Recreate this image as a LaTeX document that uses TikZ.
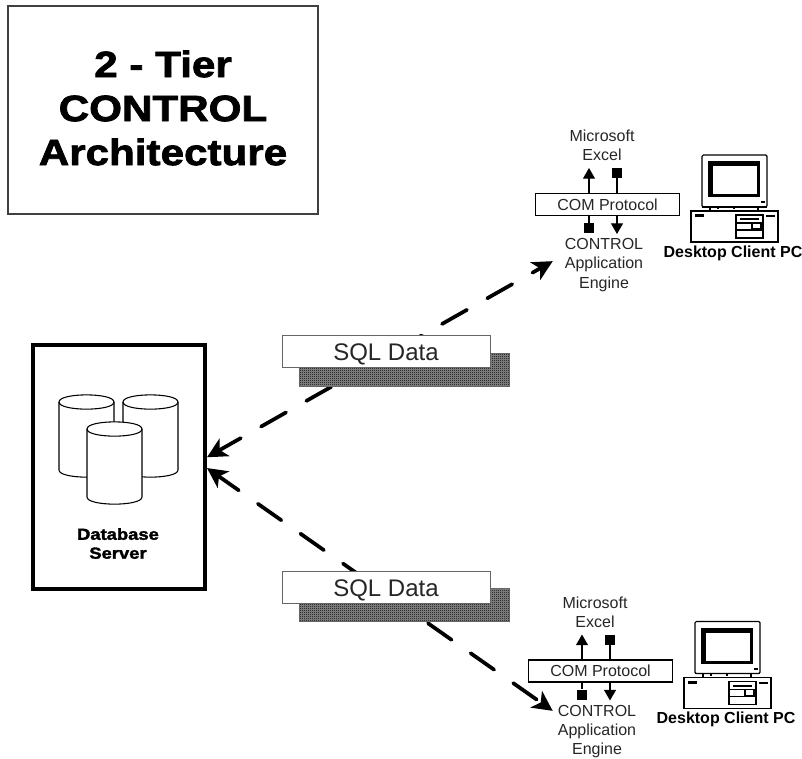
\documentclass[tikz,border=0pt]{standalone}
\usepackage{fontspec}
\setmainfont{Liberation Sans}
\newfontfamily\heavyfont[FakeBold=2,FakeStretch=1.15]{Liberation Sans Bold}
\usetikzlibrary{arrows.meta,patterns}
\pgfdeclarepatternformonly{finecheck}{\pgfqpoint{0pt}{0pt}}{\pgfqpoint{1.5pt}{1.5pt}}{\pgfqpoint{1.5pt}{1.5pt}}{
  \pgfpathrectangle{\pgfqpoint{0pt}{0pt}}{\pgfqpoint{0.75pt}{0.75pt}}
  \pgfpathrectangle{\pgfqpoint{0.75pt}{0.75pt}}{\pgfqpoint{0.75pt}{0.75pt}}
  \pgfusepath{fill}
}
\begin{document}
\begin{tikzpicture}[
    x=0.75pt, y=-0.75pt,
    titlebox/.style={rectangle, draw=black!75, line width=0.8pt, minimum width=232.5pt, minimum height=156pt},
    titletext/.style={align=center, font=\fontsize{27.5}{33}\heavyfont},
    serverbox/.style={rectangle, draw, line width=3pt, minimum width=129pt, minimum height=183pt},
    boldlabel/.style={align=center, font=\fontsize{12}{14.2}\selectfont\bfseries},
    label/.style={align=center, font=\fontsize{12}{14.5}\selectfont, text=black!85, inner sep=0pt},
    protocol/.style={rectangle, draw, line width=0.8pt, fill=white, minimum width=108pt, minimum height=16.5pt,
        inner sep=0pt, font=\fontsize{12}{14}\selectfont, text=black!85},
    engine/.style={label, minimum width=66pt, minimum height=44pt},
    datacard/.style={rectangle, draw=black!60, line width=0.6pt, fill=white, minimum width=156pt, minimum height=24pt,
        inner sep=0pt, text height=14pt, text depth=0pt, font=\fontsize{18}{20}\selectfont, text=black!85},
    cardshadow/.style={rectangle, draw=black!60, line width=0.6pt, preaction={fill=black!45}, pattern=finecheck,
        minimum width=157.5pt, minimum height=24.75pt},
    stub/.style={rectangle, fill=black, inner sep=0pt, minimum size=7.5pt},
    cylinder body/.style={draw, line width=0.8pt, fill=white},
    sqlflow/.style={line width=2.8pt, line cap=round, dash pattern=on 21.5pt off 17.5pt, dash phase=2.5pt,
        {Stealth[length=15pt,width=15pt,inset=4pt]}-{Stealth[length=15pt,width=15pt,inset=4pt]}},
    comflow/.style={line width=0.8pt, -{Triangle[length=8pt,width=9pt]}},
    pcpart/.style={draw, line width=0.9pt}
]
\useasboundingbox (0,0) rectangle (802,758);

\node (TitleBox) [titlebox] at (163,110) {};
\node (TitleText) [titletext] at (163,108) {2 - Tier\\CONTROL\\Architecture};

\node (Server) [serverbox] at (119,466.5) {};
\foreach \cx/\cy in {86.5/402, 150.5/402, 114.5/429} {
  \begin{scope}[shift={(\cx,\cy)}]
    \path [cylinder body] (-27.5,0) -- (-27.5,68) .. controls (-27.5,77.5) and (27.5,77.5) .. (27.5,68)
      -- (27.5,0) .. controls (27.5,-9.5) and (-27.5,-9.5) .. (-27.5,0) -- cycle;
    \draw [line width=0.8pt] (-27.5,0) .. controls (-27.5,9.5) and (27.5,9.5) .. (27.5,0);
  \end{scope}
}
\node (ServerLabel) [boldlabel, font=\fontsize{12}{14.2}\heavyfont] at (118,543.5) {Database\\Server};

% client pc with its protocol stack
\foreach \p/\dx/\dy in {A/0/0, B/-7/466.5} {
  \begin{scope}[shift={(\dx,\dy)}]
    \node (Com\p) [protocol] at (607.5,204.5) {COM Protocol};
    \node (Excel\p) [label] at (602,145.5) {Microsoft\\Excel};
    \node (Engine\p) [engine] at (604,265) {CONTROL\\Application\\Engine};
    \node (Stub\p) [stub] at (617,173) {};
    \node (StubLow\p) [stub] at (589,228) {};
    \coordinate (Up\p) at (589,168);
    \coordinate (Down\p) at (617,234);
    \draw [comflow] (Com\p.north -| Up\p) -- (Up\p);
    \draw [line width=0.8pt] (Com\p.north -| Stub\p) -- (Stub\p);
    \draw [line width=0.8pt] (Com\p.south -| StubLow\p) -- (StubLow\p);
    \draw [comflow] (Com\p.south -| Down\p) -- (Down\p);

    \draw [pcpart, rounded corners=1pt] (702,155) rectangle (767,207);
    \fill (708,161) rectangle (760,197);
    \fill [white] (713,166) rectangle (757,194);
    \draw [pcpart] (702,207) -- (767,207);
    \draw [pcpart] (710,207) -- (710,211) (758,207) -- (758,211) (718,207) -- (718,209) (734,207) -- (734,209);
    \fill (761,201) rectangle (765,203);
    \draw [pcpart] (691,211) rectangle (778,242);
    \fill (695,214) rectangle (704,217);
    \fill (766,215) rectangle (775,217);
    \draw [pcpart] (736,215) rectangle (763,238);
    \fill (740,218) rectangle (759,220);
    \draw [pcpart] (736,223) -- (763,223) (736,230) -- (763,230);
    \draw [pcpart] (752,223) rectangle (761,229);
    \node (Client\p) [boldlabel] at (733,253) {Desktop Client PC};
  \end{scope}
}

\draw [sqlflow, shorten >=6pt] (Server.6) -- (EngineA.170);
\draw [sqlflow] (Server.-1.5) -- (EngineB.155);

\node (ShadowA) [cardshadow] at (404.5,369.5) {};
\node (DataA) [datacard] at (386,351) {SQL Data};
\node (ShadowB) [cardshadow] at (404.5,605) {};
\node (DataB) [datacard] at (386,587) {SQL Data};

\end{tikzpicture}
\end{document}
